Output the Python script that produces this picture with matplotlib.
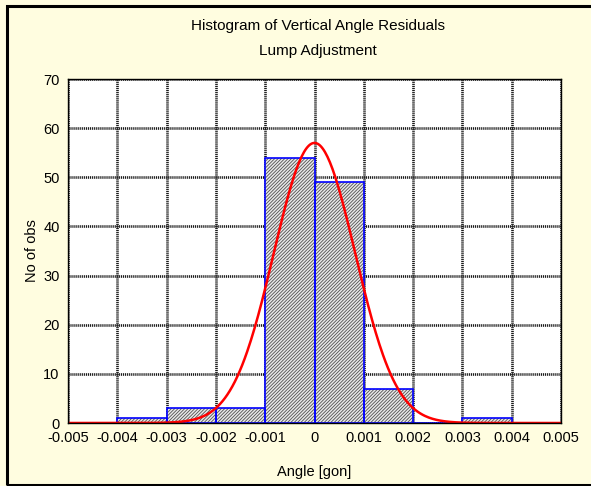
import numpy as np
import matplotlib.pyplot as plt
from matplotlib.patches import Rectangle

plt.rcParams['font.family'] = ['Liberation Sans', 'DejaVu Sans']
plt.rcParams['hatch.linewidth'] = 0.6
plt.rcParams['lines.scale_dashes'] = False

# histogram bins (gon) and counts
bin_edges = [-0.005, -0.004, -0.003, -0.002, -0.001, 0.0, 0.001, 0.002, 0.003, 0.004, 0.005]
counts = [0, 1, 3, 3, 54, 49, 7, 0, 1, 0]

# fitted normal curve parameters
fit_mean = 0.0
fit_sigma = 0.000826
fit_n = 118

xticks = [-0.005, -0.004, -0.003, -0.002, -0.001, 0, 0.001, 0.002, 0.003, 0.004, 0.005]
xtick_labels = ["-0.005", "-0.004", "-0.003", "-0.002", "-0.001", "0",
                "0.001", "0.002", "0.003", "0.004", "0.005"]
yticks = [0, 10, 20, 30, 40, 50, 60, 70]

bg = '#fffde0'

fig = plt.figure(figsize=(5.91, 4.86), dpi=100, facecolor=bg)
ax = fig.add_axes([68/591, 63/486, 493/591, 344/486])
ax.set_facecolor('white')

lefts = bin_edges[:-1]
widths = np.diff(bin_edges)

# hatched fill
ax.bar(lefts, counts, width=widths, align='edge', facecolor='#e8e8e8',
       edgecolor='#505050', hatch='//////////', linewidth=0, zorder=2)
# blue outlines
ax.bar(lefts, counts, width=widths, align='edge', facecolor='none',
       edgecolor='blue', linewidth=1.2, zorder=3)

xs = np.linspace(bin_edges[0], bin_edges[-1], 400)
binw = bin_edges[1] - bin_edges[0]
ys = fit_n * binw / (fit_sigma * np.sqrt(2 * np.pi)) * np.exp(-0.5 * ((xs - fit_mean) / fit_sigma) ** 2)
ax.plot(xs, ys, color='red', linewidth=1.8, zorder=4)

ax.set_xlim(-0.005, 0.005)
ax.set_ylim(0, 70)
ax.set_xticks(xticks)
ax.set_xticklabels(xtick_labels)
ax.set_yticks(yticks)
ax.tick_params(length=0, labelsize=10.5, pad=6)
ax.grid(True, color='#1a1a1a', linestyle=(0, (0.8, 0.6)), linewidth=1.9, zorder=1)
ax.set_axisbelow(True)
for s in ax.spines.values():
    s.set_linewidth(1.0)
    s.set_zorder(5)

ax.set_xlabel("Angle [gon]", fontsize=10.5, labelpad=14)
ax.set_ylabel("No of obs", fontsize=10.5, labelpad=3)

fig.text(318/591, 1 - 26/486, "Histogram of Vertical Angle Residuals",
         ha='center', va='center', fontsize=11)
fig.text(318/591, 1 - 51/486, "Lump Adjustment", ha='center', va='center', fontsize=11)

# outer frame (right edge runs off the image)
fig.patches.append(Rectangle((7/591, 1/486), 600/591, 479/486, transform=fig.transFigure,
                             fill=False, edgecolor='black', linewidth=2.2))

fig.savefig("out.png", dpi=100, facecolor=bg)
